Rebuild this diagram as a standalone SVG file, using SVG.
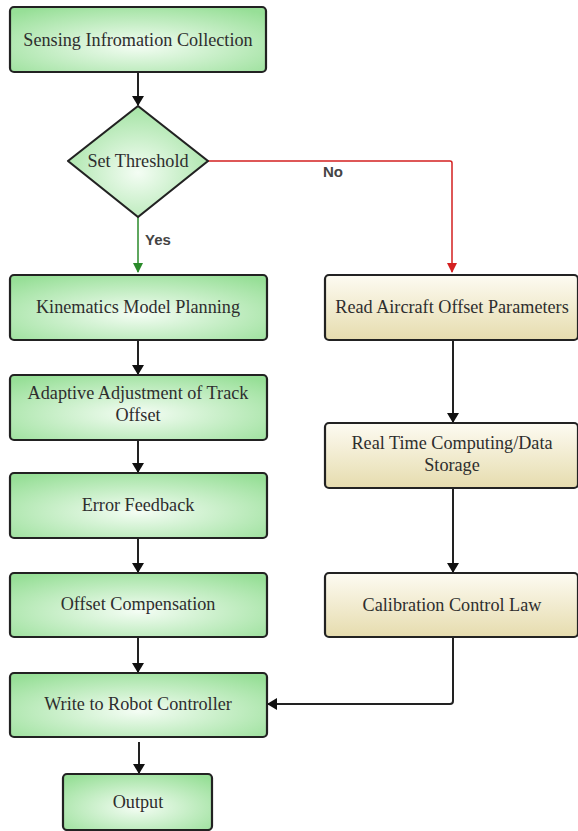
<svg xmlns="http://www.w3.org/2000/svg" width="578" height="831" viewBox="0 0 578 831">
<style>
.g{fill:url(#gg);stroke:#222;stroke-width:2.2}
.b{fill:url(#bg);stroke:#222;stroke-width:2.2}
.t{font-family:"Liberation Serif","Times New Roman",serif;font-size:18.2px;fill:#2e2e2e;text-anchor:middle}
.l{font-family:"Liberation Sans",Arial,sans-serif;font-size:15px;font-weight:bold;fill:#444}
.c{fill:none;stroke:#222;stroke-width:2}
</style>
<defs>
<radialGradient id="gg" cx="0.5" cy="0.6" r="0.7">
<stop offset="0" stop-color="#f4fdf4"/>
<stop offset="1" stop-color="#97df97"/>
</radialGradient>
<linearGradient id="bg" x1="0" y1="0" x2="0" y2="1">
<stop offset="0" stop-color="#fdfbf2"/>
<stop offset="1" stop-color="#e6dcae"/>
</linearGradient>
<marker id="ak" markerWidth="10" markerHeight="12" refX="9" refY="6" orient="auto" markerUnits="userSpaceOnUse"><path d="M0,0 L10,6 L0,12 z" fill="#111"/></marker>
<marker id="ag" markerWidth="10" markerHeight="10" refX="9" refY="5" orient="auto" markerUnits="userSpaceOnUse"><path d="M0,0 L10,5 L0,10 z" fill="#2a8a2a"/></marker>
<marker id="ar" markerWidth="10" markerHeight="10" refX="9" refY="5" orient="auto" markerUnits="userSpaceOnUse"><path d="M0,0 L10,5 L0,10 z" fill="#d42020"/></marker>
</defs>
<g id="connectors">
<path class="c" d="M138,72 V105" marker-end="url(#ak)"/>
<path d="M138,217 V272" fill="none" stroke="#2a8a2a" stroke-width="1.5" marker-end="url(#ag)"/>
<path d="M207,161 H450 Q452,161 452,163 V272" fill="none" stroke="#d42020" stroke-width="1.5" marker-end="url(#ar)"/>
<path class="c" d="M138,340 V374" marker-end="url(#ak)"/>
<path class="c" d="M138,440 V472" marker-end="url(#ak)"/>
<path class="c" d="M138,538 V572" marker-end="url(#ak)"/>
<path class="c" d="M138,637 V672" marker-end="url(#ak)"/>
<path class="c" d="M139,742 V773" marker-end="url(#ak)"/>
<path class="c" d="M453,340 V422" marker-end="url(#ak)"/>
<path class="c" d="M453,488 V572" marker-end="url(#ak)"/>
<path class="c" d="M453,637 V701 Q453,704 450,704 H268" marker-end="url(#ak)"/>
<text class="l" x="323" y="177">No</text>
<text class="l" x="145" y="245">Yes</text>
</g>
<g id="n1"><rect class="g" x="10" y="7" width="256" height="65" rx="4"/><text class="t" x="138" y="46">Sensing Infromation Collection</text></g>
<g id="n2"><path class="g" d="M138,106 L208,161 L138,217 L68,161 Z" stroke-linejoin="round"/><text class="t" x="138" y="167">Set Threshold</text></g>
<g id="n3"><rect class="g" x="10" y="275" width="257" height="65" rx="4"/><text class="t" x="138" y="313">Kinematics Model Planning</text></g>
<g id="n4"><rect class="g" x="10" y="375" width="257" height="65" rx="4"/><text class="t" x="138" y="399">Adaptive Adjustment of Track</text><text class="t" x="138" y="421">Offset</text></g>
<g id="n5"><rect class="g" x="10" y="473" width="257" height="65" rx="4"/><text class="t" x="138" y="511">Error Feedback</text></g>
<g id="n6"><rect class="g" x="10" y="573" width="257" height="64" rx="4"/><text class="t" x="138" y="610">Offset Compensation</text></g>
<g id="n7"><rect class="g" x="10" y="673" width="257" height="64" rx="4"/><text class="t" x="138" y="710">Write to Robot Controller</text></g>
<g id="n8"><rect class="g" x="63" y="774" width="149" height="56" rx="4"/><text class="t" x="138" y="808">Output</text></g>
<g id="n9"><rect class="b" x="325" y="275" width="253" height="65" rx="4"/><text class="t" x="452" y="313">Read Aircraft Offset Parameters</text></g>
<g id="n10"><rect class="b" x="325" y="423" width="253" height="65" rx="4"/><text class="t" x="452" y="449">Real Time Computing/Data</text><text class="t" x="452" y="471">Storage</text></g>
<g id="n11"><rect class="b" x="325" y="573" width="253" height="64" rx="4"/><text class="t" x="452" y="611">Calibration Control Law</text></g>
</svg>
